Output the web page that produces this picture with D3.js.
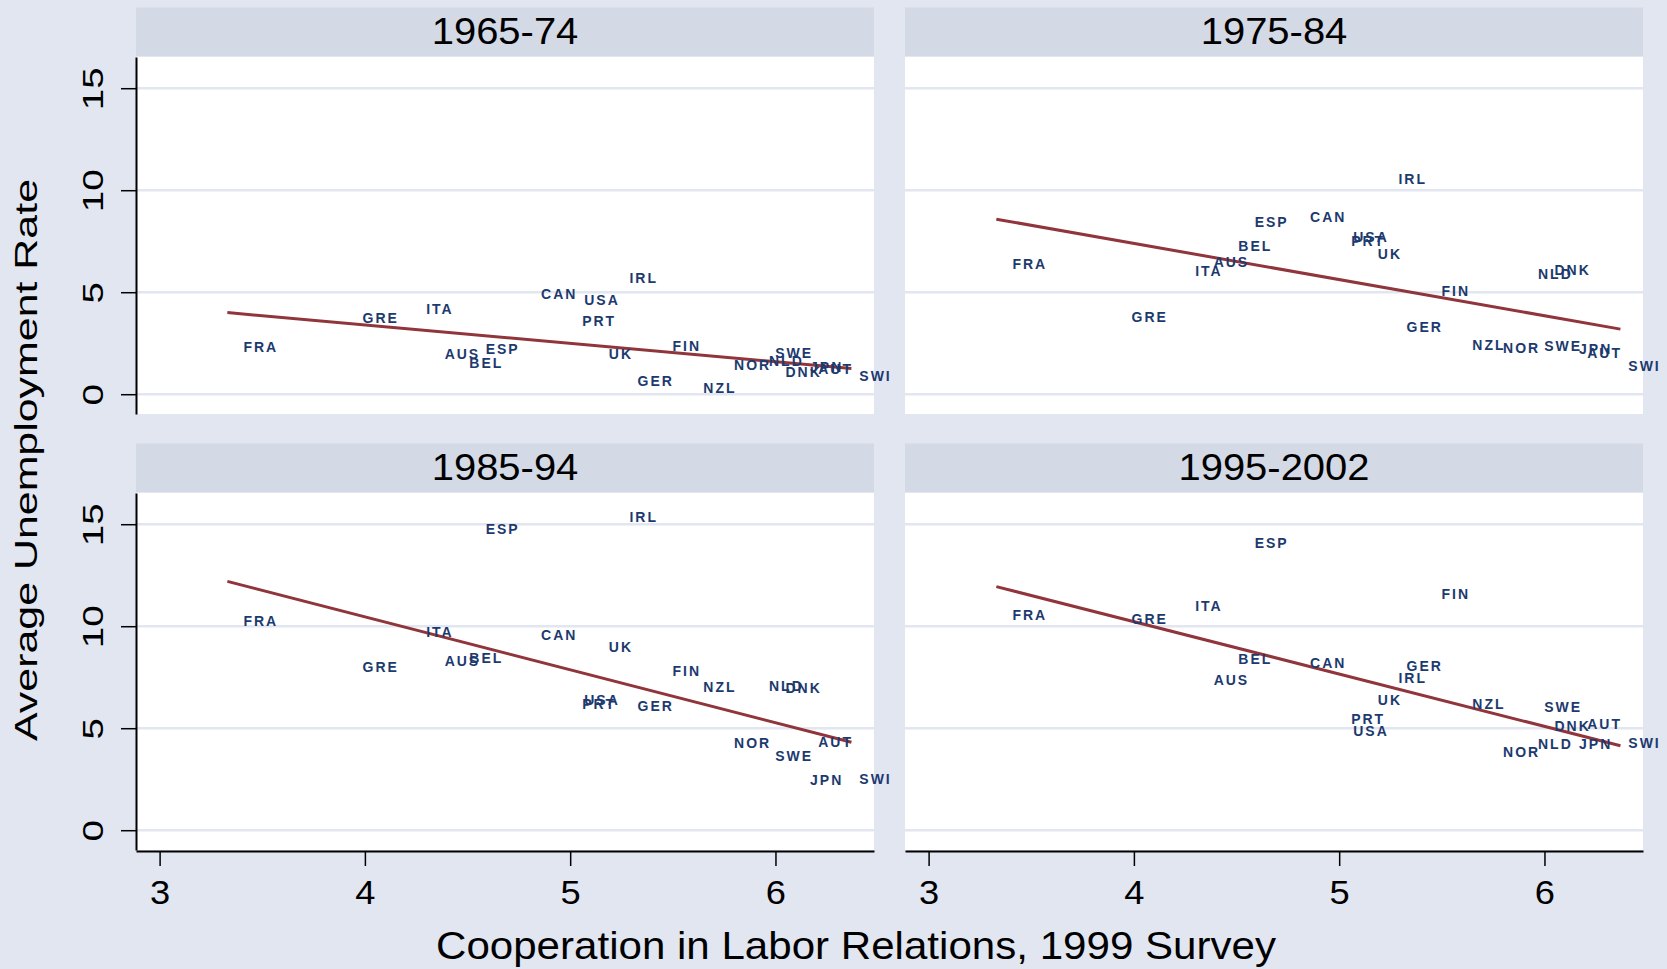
<!DOCTYPE html>
<html>
<head>
<meta charset="utf-8">
<script src="https://cdn.jsdelivr.net/npm/d3@7/dist/d3.min.js"></script>
<style>
  body { margin: 0; background: #e1e6f0; }
  svg { display: block; font-family: "Liberation Sans", Arial, Helvetica, sans-serif; }
</style>
</head>
<body>
<svg id="chart" width="1667" height="969"></svg>
<script>
// country codes and cooperation score (same x for every period)
var countries = ["AUS", "AUT", "BEL", "CAN", "DNK", "ESP", "FIN", "FRA", "GER", "GRE", "IRL",
                 "ITA", "JPN", "NLD", "NOR", "NZL", "PRT", "SWE", "SWI", "UK", "USA"];
var coop = [4.33, 6.15, 4.45, 4.80, 5.99, 4.53, 5.44, 3.35, 5.27, 3.93, 5.23,
            4.24, 6.11, 5.91, 5.74, 5.59, 5.00, 5.94, 6.35, 5.13, 5.01];

// average unemployment by period, same order as countries
var periods = ["1965-74", "1975-84", "1985-94", "1995-2002"];
var unemp6574 = [1.98, 1.25, 1.55, 4.92, 1.11, 2.22, 2.37, 2.33, 0.65, 3.73, 5.72,
                 4.17, 1.35, 1.65, 1.44, 0.29, 3.59, 2.01, 0.90, 1.98, 4.62];
var unemp7584 = [6.47, 2.00, 7.27, 8.68, 6.09, 8.46, 5.06, 6.37, 3.30, 3.79, 10.54,
                 6.04, 2.20, 5.88, 2.25, 2.40, 7.50, 2.35, 1.37, 6.86, 7.70];
var unemp8594 = [8.30, 4.34, 8.42, 9.57, 6.99, 14.75, 7.81, 10.26, 6.07, 7.99, 15.38,
                 9.73, 2.47, 7.07, 4.26, 7.02, 6.17, 3.65, 2.50, 8.96, 6.40];
var unemp9502 = [7.35, 5.21, 8.39, 8.21, 5.13, 14.09, 11.59, 10.56, 8.04, 10.36, 7.47,
                 10.99, 4.23, 4.23, 3.85, 6.17, 5.46, 6.03, 4.28, 6.40, 4.88];
var series = [unemp6574, unemp7584, unemp8594, unemp9502];

// fitted line ends
var fitX = [3.33, 6.37];
var fitStart = [4.00, 8.58, 12.20, 11.94];
var fitEnd = [1.26, 3.19, 4.31, 4.14];

var xTicks = [3, 4, 5, 6];
var yTicks = [0, 5, 10, 15];

var BG = "#e1e6f0", STRIP = "#d3d9e5", NAVY = "#1c3a6e", MAROON = "#90353b";

var svg = d3.select("#chart");
svg.append("rect").attr("width", 1667).attr("height", 969).attr("fill", BG);

var panelW = 738, stripH = 48.5, plotH = 357;
var colX = [136, 905], rowY = [7.5, 443.5];

var x = d3.scaleLinear().domain([2.885, 6.48]).range([0, panelW]);
var y = d3.scaleLinear().domain([-0.97, 16.53]).range([plotH, 0]);

periods.forEach(function (title, i) {
    var col = i % 2, row = Math.floor(i / 2);
    var g = svg.append("g").attr("transform", "translate(" + colX[col] + "," + rowY[row] + ")");

    g.append("rect").attr("width", panelW).attr("height", stripH).attr("fill", STRIP);
    g.append("text")
        .attr("transform", "translate(" + (panelW / 2) + ",36) scale(1.08,1)")
        .attr("text-anchor", "middle")
        .attr("font-size", 37)
        .attr("fill", "#000")
        .text(title);

    var p = g.append("g").attr("transform", "translate(0," + (stripH + 1) + ")");
    p.append("rect").attr("width", panelW).attr("height", plotH).attr("fill", "#fff");

    p.selectAll("line.grid").data(yTicks).enter().append("line")
        .attr("class", "grid")
        .attr("x1", 0).attr("x2", panelW)
        .attr("y1", function (d) { return y(d); })
        .attr("y2", function (d) { return y(d); })
        .attr("stroke", BG).attr("stroke-width", 2.5);

    p.append("line")
        .attr("x1", x(fitX[0])).attr("y1", y(fitStart[i]))
        .attr("x2", x(fitX[1])).attr("y2", y(fitEnd[i]))
        .attr("stroke", MAROON).attr("stroke-width", 3);

    var vals = series[i];
    p.selectAll("text.lab").data(countries).enter().append("text")
        .attr("class", "lab")
        .attr("x", function (d, k) { return x(coop[k]) + 12; })
        .attr("y", function (d, k) { return y(vals[k]); })
        .attr("dy", "0.36em")
        .attr("font-size", 14)
        .attr("font-weight", "bold")
        .attr("letter-spacing", 2)
        .attr("fill", NAVY)
        .text(function (d) { return d; });

    if (col === 0) {
        var ya = p.append("g")
            .call(d3.axisLeft(y).tickValues(yTicks).tickSize(15).tickSizeOuter(0).tickFormat(d3.format("d")));
        ya.select(".domain").attr("stroke", "#000").attr("stroke-width", 2);
        ya.selectAll(".tick line").attr("stroke", "#000").attr("stroke-width", 1.5);
        ya.selectAll(".tick text")
            .attr("x", null).attr("dy", null)
            .attr("transform", "translate(-33,0) rotate(-90)")
            .attr("text-anchor", "middle")
            .attr("font-size", 29)
            .attr("font-family", "Liberation Sans, Arial, sans-serif")
            .attr("fill", "#000")
            .attr("textLength", function (d) { return String(d).length * 21.5; })
            .attr("lengthAdjust", "spacingAndGlyphs");
    }
    if (row === 1) {
        var xa = p.append("g").attr("transform", "translate(0," + (plotH + 1) + ")")
            .call(d3.axisBottom(x).tickValues(xTicks).tickSize(15).tickSizeOuter(0).tickFormat(d3.format("d")));
        xa.select(".domain").attr("stroke", "#000").attr("stroke-width", 2);
        xa.selectAll(".tick line").attr("stroke", "#000").attr("stroke-width", 1.5);
        xa.selectAll(".tick text")
            .attr("y", null).attr("dy", null)
            .attr("transform", "translate(0,53) scale(1.1,1)")
            .attr("font-size", 33)
            .attr("font-family", "Liberation Sans, Arial, sans-serif")
            .attr("fill", "#000");
    }
});

// axis titles
svg.append("text")
    .attr("x", 856).attr("y", 959)
    .attr("text-anchor", "middle")
    .attr("font-size", 39)
    .attr("textLength", 840).attr("lengthAdjust", "spacingAndGlyphs")
    .text("Cooperation in Labor Relations, 1999 Survey");

svg.append("text")
    .attr("transform", "translate(37,460) rotate(-90)")
    .attr("text-anchor", "middle")
    .attr("font-size", 31)
    .attr("textLength", 562).attr("lengthAdjust", "spacingAndGlyphs")
    .text("Average Unemployment Rate");
</script>
</body>
</html>
